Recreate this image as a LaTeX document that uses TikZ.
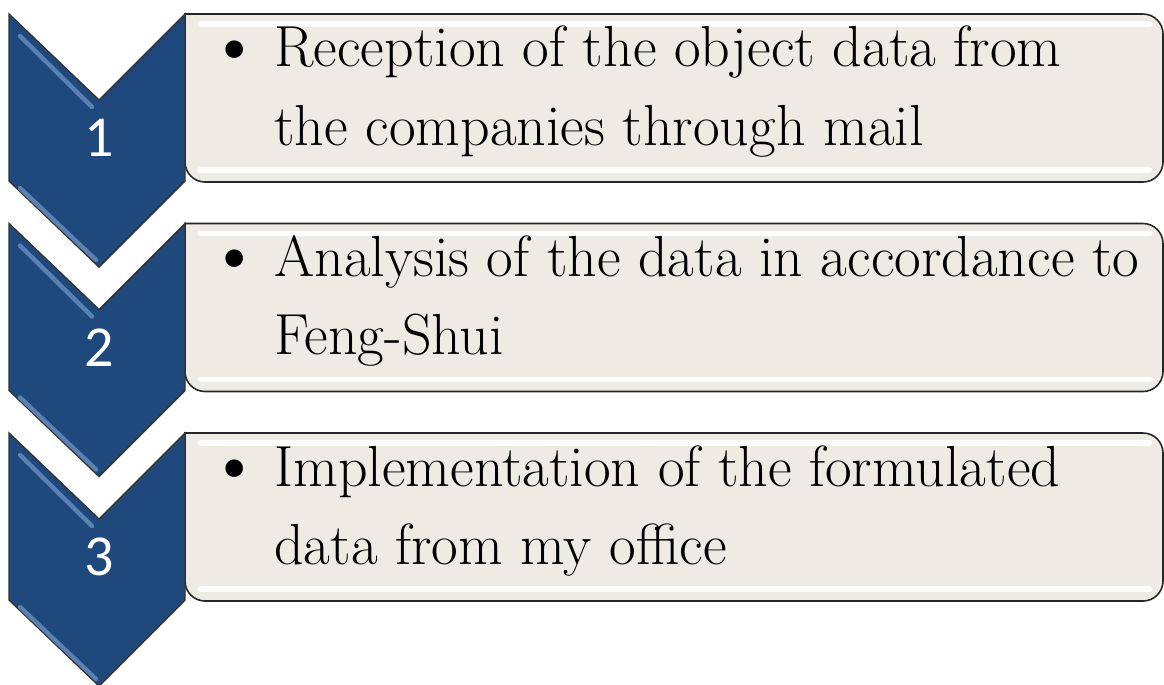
\documentclass[tikz,border=0pt]{standalone}
\usepackage{fontspec}
\setsansfont{Carlito}
\usetikzlibrary{positioning}
\definecolor{chevblue}{HTML}{1F497D}
\definecolor{chevlight}{HTML}{7399CB}
\definecolor{boxtan}{HTML}{EDEBE4}
\tikzset{>=latex}
\tikzset{
  chevron/.style={fill=chevblue, draw=black!80, line width=0.8pt, line join=miter},
  bevel/.style={chevlight, line width=2.5pt, line cap=round, opacity=0.7},
  itembox/.style={fill=boxtan, draw=black!85, line width=0.9pt},
  shine/.style={white, line width=3pt, line cap=round, opacity=0.9},
  stepnum/.style={text=white, font=\sffamily\fontsize{33}{33}\selectfont, inner sep=0pt},
  itemtext/.style={font=\fontsize{33}{44.4}\selectfont, align=left, inner sep=0pt, anchor=base west}
}

\begin{document}
\begin{tikzpicture}[x=0.02cm, y=-0.02cm]
  \useasboundingbox (0,0) rectangle (1164,684);
  \foreach \i/\t/\first/\second in {1/14/{Reception of the object data from}/{the companies through mail},
      2/223.5/{Analysis of the data in accordance to}/{Feng-Shui},
      3/433/{Implementation of the formulated}/{data from my office}}{
    \draw[itembox] (185,\t) [rounded corners=0.4cm] -- (1163,\t) -- (1163,\t+168) -- (185,\t+168) [sharp corners] -- cycle;
    \draw[shine] (200,\t+10) -- (1150,\t+10);
    \draw[shine] (200,\t+156) -- (1150,\t+156);
    \draw[chevron] (9,\t) -- (99,\t+86) -- (185,\t) -- (185,\t+167) -- (99,\t+253) -- (9,\t+167) -- cycle;
    \draw[bevel] (20,\t+22) -- (92,\t+93);
    \draw[bevel] (20,\t+174) -- (96,\t+246);
    \node[stepnum] (step\i) at (99,\t+124) {\i};
    \node[itemtext] (item\i) at (226,\t+131) {\makebox[0.96cm][l]{\hspace*{-0.35em}\raisebox{-0.06em}{\scalebox{1.35}{\textbullet}}}\first\\\hspace*{0.96cm}\second};
  }
\end{tikzpicture}
\end{document}
